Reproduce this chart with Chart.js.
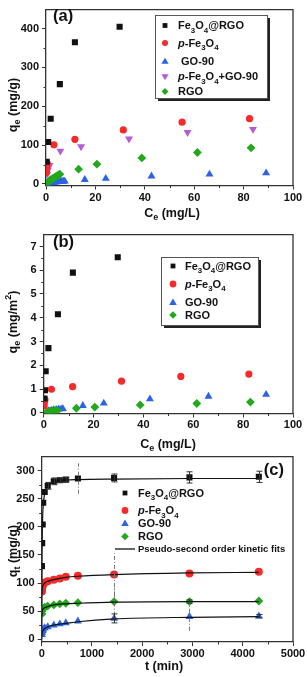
<!DOCTYPE html>
<html>
<head>
<meta charset="utf-8">
<script src="https://cdn.jsdelivr.net/npm/chart.js@4.4.1/dist/chart.umd.min.js"></script>
<style>
  body { margin: 0; background: #fff; }
  canvas { position: absolute; left: 0; }
</style>
</head>
<body>
<canvas id="chartA" width="307" height="225" style="top:0px"></canvas>
<canvas id="chartB" width="307" height="232" style="top:225px"></canvas>
<canvas id="chartC" width="307" height="230" style="top:447px"></canvas>
<script>
// ---- panel (a): isotherms, qe in mg/g ----
var aBlackX = [0.3, 0.9, 1.9, 5.6, 11.7, 29.8];
var aBlackY = [57, 108, 168, 257, 365, 405];
var aRedX = [0.2, 0.3, 0.5, 3.2, 11.7, 31.3, 55.1, 82.4];
var aRedY = [30, 42, 53, 101, 115, 139, 159, 168];
var aBlueX = [0.5, 1, 1.5, 2, 2.5, 3, 3.5, 4, 4.5, 5, 5.5, 6, 6.5, 7, 7.6, 15.7, 24.2, 42.7, 66.2, 89.1];
var aBlueY = [1, 2, 2.5, 3, 3.5, 4, 4.5, 5, 5, 5.5, 6, 6, 6.5, 6.5, 7, 11, 14, 20, 25, 28];
var aMixX = [0.4, 0.7, 1.0, 1.4, 5.8, 14.2, 33.6, 57.3, 83.8];
var aMixY = [25, 35, 42, 48, 85, 96, 116, 133, 141];
var aGreenX = [0.5, 1, 1.5, 2, 2.5, 3, 3.5, 4, 4.5, 5, 5.6, 13.2, 20.6, 38.8, 61.3, 83.0];
var aGreenY = [3, 6, 9, 11, 13, 15, 17, 19, 21, 23, 25, 38, 51, 67, 81, 93];
var aXTicks = [0, 20, 40, 60, 80, 100];
var aYTicks = [0, 100, 200, 300, 400];

// ---- panel (b): isotherms, qe in mg/m2 ----
var bBlackX = [0.3, 0.5, 0.8, 1.9, 5.7, 11.7, 29.7];
var bBlackY = [0.6, 0.95, 1.75, 2.72, 4.15, 5.9, 6.55];
var bRedX = [0.2, 0.3, 0.5, 3.1, 11.6, 31.2, 55.0, 82.3];
var bRedY = [0.3, 0.45, 0.55, 0.99, 1.1, 1.33, 1.53, 1.63];
var bBlueX = [2, 3, 4, 5, 6, 7, 7.7, 15.7, 24.1, 42.6, 66.1, 89.2];
var bBlueY = [0.08, 0.1, 0.12, 0.13, 0.15, 0.16, 0.17, 0.3, 0.4, 0.58, 0.69, 0.77];
var bGreenX = [1.5, 2.5, 3.5, 4.5, 5.5, 13.1, 20.5, 38.7, 61.4, 82.9];
var bGreenY = [0.05, 0.07, 0.08, 0.09, 0.1, 0.19, 0.24, 0.33, 0.39, 0.45];
var bXTicks = [0, 20, 40, 60, 80, 100];
var bYTicks = [0, 1, 2, 3, 4, 5, 6, 7];

// ---- panel (c): kinetics ----
var tMin = [5, 10, 20, 30, 60, 120, 240, 360, 480, 720, 1440, 2940, 4320];
var cBlack = [130, 171, 204, 243, 262, 273, 281, 283, 284, 286, 287, 288, 289];
var cBlackErr = [0, 0, 0, 0, 0, 6, 6, 4, 4, 27, 7, 10, 10];
var cRed = [85, 90, 95, 98, 101, 103, 106, 108, 111, 113, 115, 117, 120];
var cRedErr = [0, 0, 0, 0, 0, 0, 0, 0, 0, 0, 38, 0, 0];
var cGreen = [45, 50, 53, 55, 57, 59, 61, 63, 64, 65, 67, 67, 68];
var cGreenErr = [0, 0, 0, 0, 0, 0, 0, 0, 0, 0, 25, 3, 0];
var cBlue = [8, 12, 15, 18, 20, 22, 25, 27, 29, 32, 37, 40, 41];
var cBlueErr = [0, 0, 0, 0, 0, 0, 0, 0, 0, 0, 8, 25, 3];
// fitted curves
var fitBlackT = [0, 5, 10, 20, 30, 60, 120, 240, 480, 720, 1440, 2940, 4320];
var fitBlackQ = [0, 135, 180, 220, 238, 260, 272, 279, 283, 284, 285, 286, 286];
var fitT = [2, 10, 30, 60, 120, 240, 480, 720, 1440, 2940, 4320];
var fitRedQ = [80, 90, 96, 100, 103, 106, 110, 112, 115, 118, 119];
var fitGreenQ = [42, 50, 54, 56, 58, 61, 63, 64, 66, 67, 67];
var fitBlueQ = [5, 12, 16, 19, 22, 25, 28, 31, 36, 39, 40];
var cXTicks = [0, 1000, 2000, 3000, 4000, 5000];
var cYTicks = [0, 50, 100, 150, 200, 250, 300];

var FAMILY = '"Liberation Sans", Arial, sans-serif';
var BLACK = '#111111', RED = '#f52a2a', BLUE = '#2b62e8', MAGENTA = '#b65ad8', GREEN = '#22a81a';

Chart.defaults.font.family = FAMILY;
Chart.defaults.font.size = 11;
Chart.defaults.font.weight = 'bold';
Chart.defaults.color = '#111';

function pts(xs, ys) {
  return xs.map(function (x, i) { return { x: x, y: ys[i] }; });
}

function midpoints(ticks) {
  var out = [];
  for (var i = 0; i < ticks.length - 1; i++) out.push((ticks[i] + ticks[i + 1]) / 2);
  return out;
}

// text with _x subscripts, ^x superscripts and *italic*
function richSegments(str) {
  var segs = [], italic = false, i = 0;
  while (i < str.length) {
    var c = str[i];
    if (c === '*') { italic = !italic; i++; continue; }
    if (c === '_' || c === '^') { segs.push({ t: str[i + 1], mode: c, italic: italic }); i += 2; continue; }
    var last = segs[segs.length - 1];
    if (last && last.mode === '' && last.italic === italic) last.t += c;
    else segs.push({ t: c, mode: '', italic: italic });
    i++;
  }
  return segs;
}

function drawRich(ctx, str, x, yMid, size, align) {
  var segs = richSegments(str);
  var w = 0;
  segs.forEach(function (s) {
    s.sz = s.mode ? size * 0.72 : size;
    ctx.font = (s.italic ? 'italic ' : '') + 'bold ' + s.sz + 'px ' + FAMILY;
    s.w = ctx.measureText(s.t).width;
    w += s.w;
  });
  var cx = align === 'center' ? x - w / 2 : (align === 'right' ? x - w : x);
  var base = yMid + size * 0.36;
  ctx.textAlign = 'left';
  ctx.textBaseline = 'alphabetic';
  segs.forEach(function (s) {
    ctx.font = (s.italic ? 'italic ' : '') + 'bold ' + s.sz + 'px ' + FAMILY;
    var dy = s.mode === '_' ? size * 0.3 : (s.mode === '^' ? -size * 0.42 : 0);
    ctx.fillText(s.t, cx, base + dy);
    cx += s.w;
  });
}

function drawMarker(ctx, style, x, y, r, color) {
  ctx.save();
  ctx.fillStyle = color;
  ctx.beginPath();
  if (style === 'rect') {
    var s = r * Math.SQRT1_2;
    ctx.rect(x - s, y - s, 2 * s, 2 * s);
  } else if (style === 'circle') {
    ctx.arc(x, y, r, 0, Math.PI * 2);
  } else if (style === 'triangle' || style === 'triDown') {
    var d = style === 'triangle' ? 1 : -1;
    ctx.moveTo(x, y - d * r);
    ctx.lineTo(x + r * 0.95, y + d * r * 0.6);
    ctx.lineTo(x - r * 0.95, y + d * r * 0.6);
    ctx.closePath();
  } else if (style === 'rectRot') {
    ctx.moveTo(x, y - r); ctx.lineTo(x + r, y); ctx.lineTo(x, y + r); ctx.lineTo(x - r, y);
    ctx.closePath();
  } else if (style === 'line') {
    ctx.strokeStyle = color; ctx.lineWidth = 1.3;
    ctx.moveTo(x - 10, y); ctx.lineTo(x + 10, y); ctx.stroke();
    ctx.restore();
    return;
  }
  ctx.fill();
  ctx.restore();
}

var decor = {
  id: 'decor',
  afterDatasetsDraw: function (chart) {
    var ctx = chart.ctx, xs = chart.scales.x, ys = chart.scales.y;
    ctx.save();
    chart.data.datasets.forEach(function (ds) {
      if (!ds.errs) return;
      ds.data.forEach(function (p, i) {
        var e = ds.errs[i];
        if (!e) return;
        var px = Math.round(xs.getPixelForValue(p.x)) + 0.5;
        var y1 = ys.getPixelForValue(p.y - e), y2 = ys.getPixelForValue(p.y + e);
        ctx.beginPath();
        if (e > 15) {
          ctx.setLineDash([4, 2, 1, 2]);
          ctx.strokeStyle = '#777';
          ctx.lineWidth = 1;
          ctx.moveTo(px, y1); ctx.lineTo(px, y2);
        } else {
          ctx.setLineDash([]);
          ctx.strokeStyle = '#333';
          ctx.lineWidth = 1;
          ctx.moveTo(px, y1); ctx.lineTo(px, y2);
          ctx.moveTo(px - 3, y1); ctx.lineTo(px + 3, y1);
          ctx.moveTo(px - 3, y2); ctx.lineTo(px + 3, y2);
        }
        ctx.stroke();
      });
    });
    ctx.restore();
  },
  afterDraw: function (chart, args, o) {
    var ctx = chart.ctx, a = chart.chartArea, xs = chart.scales.x, ys = chart.scales.y;
    ctx.save();
    // frame top + right
    ctx.strokeStyle = '#333';
    ctx.lineWidth = 1.3;
    ctx.beginPath();
    ctx.moveTo(a.left, a.top); ctx.lineTo(a.right, a.top); ctx.lineTo(a.right, a.bottom);
    ctx.stroke();
    // minor ticks
    ctx.lineWidth = 1;
    ctx.beginPath();
    o.minorX.forEach(function (v) {
      var px = Math.round(xs.getPixelForValue(v)) + 0.5;
      ctx.moveTo(px, a.bottom); ctx.lineTo(px, a.bottom + 2.5);
    });
    o.minorY.forEach(function (v) {
      var py = Math.round(ys.getPixelForValue(v)) + 0.5;
      if (py < a.top) return;
      ctx.moveTo(a.left, py); ctx.lineTo(a.left - 2.5, py);
    });
    ctx.stroke();
    ctx.fillStyle = '#111';
    // axis titles
    drawRich(ctx, o.xTitle, o.xTitlePos[0], o.xTitlePos[1], 12.5, 'center');
    ctx.save();
    ctx.translate(o.yTitlePos[0], o.yTitlePos[1]);
    ctx.rotate(-Math.PI / 2);
    drawRich(ctx, o.yTitle, 0, 0, 12.5, 'center');
    ctx.restore();
    // panel tag
    drawRich(ctx, o.tag, o.tagPos[0], o.tagPos[1], 16.5, o.tagAlign);
    // legend
    var L = o.legend;
    if (L.box) {
      var b = L.box;
      ctx.fillStyle = '#222';
      ctx.fillRect(b[0] + 3, b[1] + 3, b[2], b[3]);
      ctx.fillStyle = '#fff';
      ctx.fillRect(b[0], b[1], b[2], b[3]);
      ctx.strokeStyle = '#555';
      ctx.lineWidth = 1;
      ctx.strokeRect(b[0] + 0.5, b[1] + 0.5, b[2], b[3]);
    }
    L.items.forEach(function (it) {
      drawMarker(ctx, it.style, L.markerX, it.y, it.r || 3.2, it.color);
      ctx.fillStyle = '#111';
      drawRich(ctx, it.text, L.textX, it.y, it.size || 11, 'left');
    });
    ctx.restore();
  }
};

function makeScales(xMin, xMax, xTicks, yMin, yMax, yTicks, yWidth, xHeight, xPad) {
  function axis(min, max, ticks, isX) {
    return {
      type: 'linear',
      min: min,
      max: max,
      afterBuildTicks: function (s) { s.ticks = ticks.map(function (v) { return { value: v }; }); },
      afterFit: function (s) { if (isX) s.height = xHeight; else s.width = yWidth; },
      ticks: {
        padding: isX ? xPad : 3, color: '#111', font: { size: 11, weight: 'bold' },
        callback: function (v) { return String(v); }
      },
      grid: { drawOnChartArea: false, drawTicks: true, tickLength: 4, tickColor: '#333', tickWidth: 1 },
      border: { display: true, color: '#333', width: 1.3 },
      title: { display: false }
    };
  }
  return { x: axis(xMin, xMax, xTicks, true), y: axis(yMin, yMax, yTicks, false) };
}

function scatterSet(label, data, style, color, r, rotation) {
  return {
    label: label, data: data, pointStyle: style, pointRotation: rotation || 0,
    backgroundColor: color, borderColor: color, borderWidth: 0,
    pointRadius: r, showLine: false
  };
}

// ---------------- chart (a)
new Chart(document.getElementById('chartA'), {
  type: 'scatter',
  data: {
    datasets: [
      scatterSet('Fe3O4@RGO', pts(aBlackX, aBlackY), 'rect', BLACK, 4.3),
      scatterSet('p-Fe3O4', pts(aRedX, aRedY), 'circle', RED, 3.6),
      scatterSet('p-Fe3O4+GO-90', pts(aMixX, aMixY), 'triangle', MAGENTA, 4.6, 180),
      scatterSet('RGO', pts(aGreenX, aGreenY), 'rectRot', GREEN, 4.4),
      scatterSet('GO-90', pts(aBlueX, aBlueY), 'triangle', BLUE, 4.6)
    ]
  },
  options: {
    responsive: false, animation: false, devicePixelRatio: 1,
    layout: { padding: { top: 2, right: 14, left: 0, bottom: 0 } },
    scales: makeScales(0, 100, aXTicks, -4, 449, aYTicks, 46, 39.5, 2),
    plugins: {
      legend: { display: false }, tooltip: { enabled: false },
      decor: {
        minorX: midpoints(aXTicks), minorY: midpoints(aYTicks),
        xTitle: 'C_e (mg/L)', xTitlePos: [172, 212],
        yTitle: 'q_e (mg/g)', yTitlePos: [12, 105],
        tag: '(a)', tagPos: [53, 15], tagAlign: 'left',
        legend: {
          box: [155, 15, 112, 83], markerX: 165, textX: 178,
          items: [
            { text: 'Fe_3O_4@RGO', style: 'rect', color: BLACK, y: 25.5, r: 3.4 },
            { text: '*p*-Fe_3O_4', style: 'circle', color: RED, y: 43, r: 3 },
            { text: ' GO-90', style: 'triangle', color: BLUE, y: 61.5, r: 3.8 },
            { text: '*p*-Fe_3O_4+GO-90', style: 'triDown', color: MAGENTA, y: 76.5, r: 3.8 },
            { text: 'RGO', style: 'rectRot', color: GREEN, y: 91.5, r: 3.4 }
          ]
        }
      }
    }
  },
  plugins: [decor]
});

// ---------------- chart (b)
new Chart(document.getElementById('chartB'), {
  type: 'scatter',
  data: {
    datasets: [
      scatterSet('Fe3O4@RGO', pts(bBlackX, bBlackY), 'rect', BLACK, 4.3),
      scatterSet('p-Fe3O4', pts(bRedX, bRedY), 'circle', RED, 3.6),
      scatterSet('RGO', pts(bGreenX, bGreenY), 'rectRot', GREEN, 4.4),
      scatterSet('GO-90', pts(bBlueX, bBlueY), 'triangle', BLUE, 4.6)
    ]
  },
  options: {
    responsive: false, animation: false, devicePixelRatio: 1,
    layout: { padding: { top: 4, right: 14, left: 0, bottom: 0 } },
    scales: makeScales(0, 100, bXTicks, -0.03, 7.5, bYTicks, 43.7, 43.5, 1),
    plugins: {
      legend: { display: false }, tooltip: { enabled: false },
      decor: {
        minorX: midpoints(bXTicks), minorY: midpoints(bYTicks),
        xTitle: 'C_e (mg/L)', xTitlePos: [168, 218],
        yTitle: 'q_e (mg/m^2)', yTitlePos: [12, 97],
        tag: '(b)', tagPos: [53, 16.5], tagAlign: 'left',
        legend: {
          box: [161, 32, 97, 68], markerX: 173, textX: 185,
          items: [
            { text: 'Fe_3O_4@RGO', style: 'rect', color: BLACK, y: 41, r: 3.4 },
            { text: '*p*-Fe_3O_4', style: 'circle', color: RED, y: 59, r: 3.4 },
            { text: 'GO-90', style: 'triangle', color: BLUE, y: 77.5, r: 4 },
            { text: 'RGO', style: 'rectRot', color: GREEN, y: 90, r: 3.8 }
          ]
        }
      }
    }
  },
  plugins: [decor]
});

// ---------------- chart (c)
function fitSet(ts, qs) {
  return {
    label: 'fit', data: pts(ts, qs), showLine: true, pointRadius: 0,
    borderColor: BLACK, borderWidth: 1.2, cubicInterpolationMode: 'monotone'
  };
}
var cBlackSet = scatterSet('Fe3O4@RGO', pts(tMin, cBlack), 'rect', BLACK, 4.3);
cBlackSet.errs = cBlackErr;
var cRedSet = scatterSet('p-Fe3O4', pts(tMin, cRed), 'circle', RED, 4);
cRedSet.errs = cRedErr;
var cGreenSet = scatterSet('RGO', pts(tMin, cGreen), 'rectRot', GREEN, 4.4);
cGreenSet.errs = cGreenErr;
var cBlueSet = scatterSet('GO-90', pts(tMin, cBlue), 'triangle', BLUE, 4.6);
cBlueSet.errs = cBlueErr;

new Chart(document.getElementById('chartC'), {
  type: 'scatter',
  data: {
    datasets: [
      fitSet(fitBlackT, fitBlackQ), fitSet(fitT, fitRedQ), fitSet(fitT, fitGreenQ), fitSet(fitT, fitBlueQ),
      cBlackSet, cRedSet, cGreenSet, cBlueSet
    ]
  },
  options: {
    responsive: false, animation: false, devicePixelRatio: 1,
    layout: { padding: { top: 7, right: 14, left: 0, bottom: 0 } },
    scales: makeScales(0, 5000, cXTicks, -5, 325, cYTicks, 41.7, 35, 1),
    plugins: {
      legend: { display: false }, tooltip: { enabled: false },
      decor: {
        minorX: midpoints(cXTicks), minorY: midpoints(cYTicks),
        xTitle: 't (min)', xTitlePos: [164, 218],
        yTitle: 'q_t (mg/g)', yTitlePos: [12, 104],
        tag: '(c)', tagPos: [284, 22], tagAlign: 'right',
        legend: {
          box: null, markerX: 125, textX: 138,
          items: [
            { text: 'Fe_3O_4@RGO', style: 'rect', color: BLACK, y: 46, r: 3.4 },
            { text: '*p*-Fe_3O_4', style: 'circle', color: RED, y: 63.5, r: 3.4 },
            { text: 'GO-90', style: 'triangle', color: BLUE, y: 76.5, r: 4 },
            { text: 'RGO', style: 'rectRot', color: GREEN, y: 89.5, r: 3.8 },
            { text: 'Pseudo-second order kinetic fits', style: 'line', color: BLACK, y: 102, size: 9.5 }
          ]
        }
      }
    }
  },
  plugins: [decor]
});
</script>
</body>
</html>
